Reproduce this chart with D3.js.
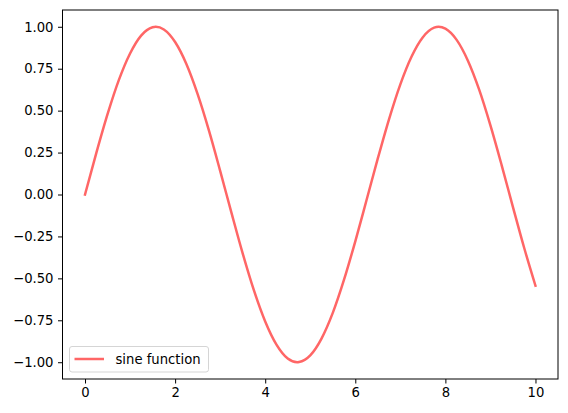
<!DOCTYPE html>
<html>
<head>
<meta charset="utf-8">
<script src="https://cdn.jsdelivr.net/npm/d3@7"></script>
<style>
  body { margin: 0; background: #fff; }
  text { font-family: "DejaVu Sans", sans-serif; }
</style>
</head>
<body>
<div id="canvas"></div>
<script>
// data
const xValues = [0, 0.25, 0.5, 0.75, 1, 1.25, 1.5, 1.57, 1.75, 2, 2.25, 2.5, 2.75, 3, 3.25, 3.5,
                 3.75, 4, 4.25, 4.5, 4.71, 4.75, 5, 5.25, 5.5, 5.75, 6, 6.25, 6.5, 6.75, 7, 7.25,
                 7.5, 7.75, 7.85, 8, 8.25, 8.5, 8.75, 9, 9.25, 9.5, 9.75, 10];
const yValues = [0, 0.247, 0.479, 0.682, 0.841, 0.949, 0.997, 1.0, 0.984, 0.909, 0.778, 0.598, 0.382, 0.141, -0.108, -0.351,
                 -0.572, -0.757, -0.895, -0.978, -1.0, -0.999, -0.959, -0.859, -0.706, -0.508, -0.279, -0.033, 0.215, 0.450, 0.657, 0.823,
                 0.938, 0.995, 1.0, 0.989, 0.922, 0.798, 0.625, 0.412, 0.174, -0.075, -0.319, -0.544];
const xTicks = [0, 2, 4, 6, 8, 10];
const yTicks = [-1, -0.75, -0.5, -0.25, 0, 0.25, 0.5, 0.75, 1];
const seriesName = "sine function";

// dimensions
const width = 568;
const height = 413;
const margins = {top: 10, right: 10, bottom: 34, left: 62.5};
const dataWidth = width - margins.left - margins.right;
const dataHeight = height - margins.top - margins.bottom;
const fontSize = 13.2;
const tickLen = 4.5;

var svg = d3.select("#canvas").append("svg")
    .attr("width", width)
    .attr("height", height);

var dataArea = svg.append("g")
    .attr("transform", `translate(${margins.left}, ${margins.top})`);

var x = d3.scaleLinear().domain([-0.5, 10.5]).range([0, dataWidth]);
var y = d3.scaleLinear().domain([-1.1, 1.1]).range([dataHeight, 0]);

// X axis
var xAxisGroup = dataArea.append("g")
    .attr("transform", `translate(0, ${dataHeight})`)
    .call(d3.axisBottom(x).tickValues(xTicks).tickSize(tickLen).tickPadding(4.5).tickFormat(d3.format("d")));

// Y axis
var yAxisGroup = dataArea.append("g")
    .call(d3.axisLeft(y).tickValues(yTicks).tickSize(tickLen).tickPadding(4.5).tickFormat(d3.format(".2f")));

[xAxisGroup, yAxisGroup].forEach(function(g) {
    g.select(".domain").remove();
    g.selectAll(".tick line").attr("stroke", "#000").attr("stroke-width", 1);
    g.selectAll(".tick text")
        .attr("fill", "#000")
        .attr("font-size", fontSize)
        .attr("font-family", "DejaVu Sans, sans-serif");
});

// sine line
dataArea.append("path")
    .datum(d3.zip(xValues, yValues))
    .attr("fill", "none")
    .attr("stroke", "#ff6666")
    .attr("stroke-width", 2.5)
    .attr("stroke-linejoin", "round")
    .attr("stroke-linecap", "square")
    .attr("d", d3.line()
        .curve(d3.curveMonotoneX)
        .x(function(d) { return x(d[0]) })
        .y(function(d) { return y(d[1]) })
    );

// frame
dataArea.append("rect")
    .attr("x", 0)
    .attr("y", 0)
    .attr("width", dataWidth)
    .attr("height", dataHeight)
    .attr("fill", "none")
    .attr("stroke", "#000")
    .attr("stroke-width", 1);

// legend, lower left
var legend = dataArea.append("g")
    .attr("transform", `translate(7, ${dataHeight - 32.5})`);

legend.append("rect")
    .attr("x", 0)
    .attr("y", 0)
    .attr("width", 139)
    .attr("height", 25.5)
    .attr("rx", 2.5)
    .attr("fill", "#fff")
    .attr("fill-opacity", 0.8)
    .attr("stroke", "#d5d5d5")
    .attr("stroke-width", 1);

legend.append("line")
    .attr("x1", 5)
    .attr("x2", 34.5)
    .attr("y1", 12.5)
    .attr("y2", 12.5)
    .attr("stroke", "#ff6666")
    .attr("stroke-width", 2.5);

legend.append("text")
    .attr("x", 46)
    .attr("y", 12.5)
    .attr("dy", "0.35em")
    .attr("font-size", fontSize)
    .attr("fill", "#000")
    .text(seriesName);
</script>
</body>
</html>
